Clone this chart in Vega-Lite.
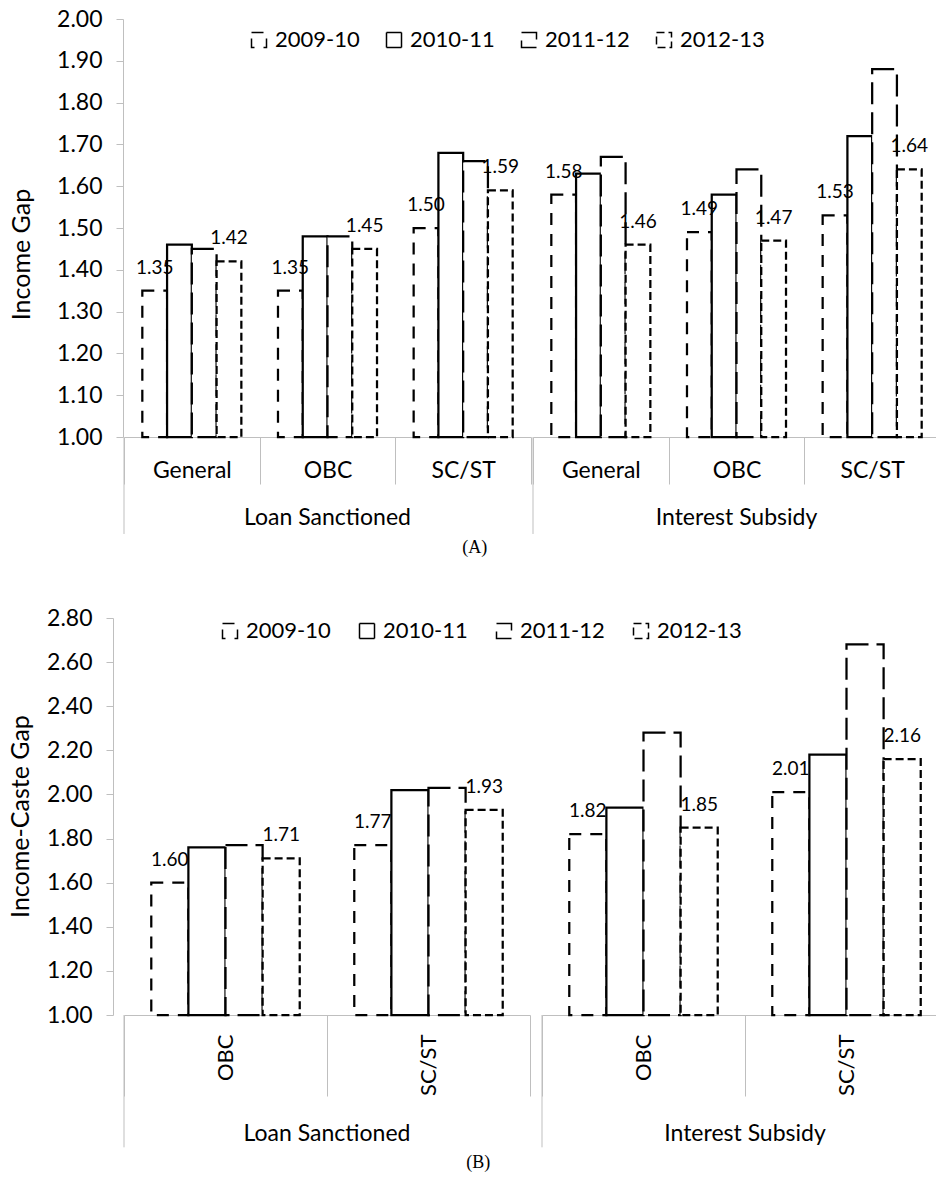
{
  "$schema": "https://vega.github.io/schema/vega-lite/v6.json",
  "padding": {"top": 8, "left": 8, "right": 0, "bottom": 0},
  "background": "white",
  "config": {
    "view": {"stroke": null},
    "font": "Lato",
    "axis": {"labelColor": "black", "labelFont": "Lato", "titleColor": "black", "titleFont": "Lato", "domainColor": "#bfbfbf", "tickColor": "#bfbfbf", "grid": false},
    "header": {"labelColor": "black", "labelFont": "Lato"},
    "legend": {"labelColor": "black", "labelFont": "Lato"}
  },
  "vconcat": [
    {
      "data": {"values": [
        {"program": "Loan Sanctioned", "cat": "General", "year": "2009-10", "value": 1.35},
        {"program": "Loan Sanctioned", "cat": "General", "year": "2010-11", "value": 1.46},
        {"program": "Loan Sanctioned", "cat": "General", "year": "2011-12", "value": 1.45},
        {"program": "Loan Sanctioned", "cat": "General", "year": "2012-13", "value": 1.42},
        {"program": "Loan Sanctioned", "cat": "OBC", "year": "2009-10", "value": 1.35},
        {"program": "Loan Sanctioned", "cat": "OBC", "year": "2010-11", "value": 1.48},
        {"program": "Loan Sanctioned", "cat": "OBC", "year": "2011-12", "value": 1.48},
        {"program": "Loan Sanctioned", "cat": "OBC", "year": "2012-13", "value": 1.45},
        {"program": "Loan Sanctioned", "cat": "SC/ST", "year": "2009-10", "value": 1.50},
        {"program": "Loan Sanctioned", "cat": "SC/ST", "year": "2010-11", "value": 1.68},
        {"program": "Loan Sanctioned", "cat": "SC/ST", "year": "2011-12", "value": 1.66},
        {"program": "Loan Sanctioned", "cat": "SC/ST", "year": "2012-13", "value": 1.59},
        {"program": "Interest Subsidy", "cat": "General", "year": "2009-10", "value": 1.58},
        {"program": "Interest Subsidy", "cat": "General", "year": "2010-11", "value": 1.63},
        {"program": "Interest Subsidy", "cat": "General", "year": "2011-12", "value": 1.67},
        {"program": "Interest Subsidy", "cat": "General", "year": "2012-13", "value": 1.46},
        {"program": "Interest Subsidy", "cat": "OBC", "year": "2009-10", "value": 1.49},
        {"program": "Interest Subsidy", "cat": "OBC", "year": "2010-11", "value": 1.58},
        {"program": "Interest Subsidy", "cat": "OBC", "year": "2011-12", "value": 1.64},
        {"program": "Interest Subsidy", "cat": "OBC", "year": "2012-13", "value": 1.47},
        {"program": "Interest Subsidy", "cat": "SC/ST", "year": "2009-10", "value": 1.53},
        {"program": "Interest Subsidy", "cat": "SC/ST", "year": "2010-11", "value": 1.72},
        {"program": "Interest Subsidy", "cat": "SC/ST", "year": "2011-12", "value": 1.88},
        {"program": "Interest Subsidy", "cat": "SC/ST", "year": "2012-13", "value": 1.64}
      ]},
      "title": {"text": "(A)", "orient": "bottom", "anchor": "middle", "frame": "bounds", "font": "Liberation Serif", "fontSize": 18, "fontWeight": "normal", "color": "black", "offset": 4},
      "spacing": 0,
      "resolve": {"scale": {"x": "independent", "xOffset": "independent"}},
      "facet": {"column": {"field": "program", "type": "nominal", "sort": ["Loan Sanctioned", "Interest Subsidy"],
        "header": {"title": null, "labelOrient": "bottom", "labelFontSize": 23, "labelPadding": -28}}},
      "spec": {
        "width": 407, "height": 418,
        "layer": [
          {
            "mark": {"type": "bar", "fill": "white", "stroke": "black", "strokeWidth": 2.25},
            "encoding": {
              "x": {"field": "cat", "type": "nominal", "sort": ["General", "OBC", "SC/ST"],
                "scale": {"paddingInner": 0, "paddingOuter": 0},
                "axis": {"title": null, "tickBand": "extent", "tickSize": 47, "labelAngle": 0, "labelFontSize": 23, "labelBaseline": "middle", "labelPadding": -14}},
              "xOffset": {"field": "year", "type": "nominal", "scale": {"domain": ["2009-10", "2010-11", "2011-12", "2012-13"], "paddingInner": 0, "paddingOuter": 0.74}},
              "y": {"field": "value", "type": "quantitative", "scale": {"domain": [1, 2], "zero": false, "nice": false},
                "axis": {"title": "Income Gap", "titleFontSize": 25, "titleFontWeight": "normal", "titleX": -89, "titleY": 235, "titleBaseline": "bottom", "titleAngle": 270, "values": [1, 1.1, 1.2, 1.3, 1.4, 1.5, 1.6, 1.7, 1.8, 1.9, 2], "format": ".2f", "tickSize": 7, "labelPadding": 14, "labelFontSize": 23}},
              "y2": {"datum": 1},
              "strokeDash": {"field": "year", "type": "nominal", "scale": {"domain": ["2009-10", "2010-11", "2011-12", "2012-13"], "range": [[12, 9], [1, 0], [22, 8], [8, 4]]},
                "legend": {"title": null, "orient": "none", "legendX": 124, "legendY": 10, "direction": "horizontal", "symbolType": "square", "symbolSize": 225, "labelFontSize": 22, "columnPadding": 23, "labelOffset": 5,
                  "encode": {"symbols": {"update": {"stroke": {"value": "black"}, "strokeWidth": {"value": 2}, "fill": {"value": "white"}, "opacity": {"value": 1}}}}}}
            }
          },
          {
            "transform": [{"filter": "datum.year == '2009-10' || datum.year == '2012-13'"}],
            "mark": {"type": "text", "baseline": "alphabetic", "align": "center", "dy": -17, "fontSize": 19, "color": "black"},
            "encoding": {
              "x": {"field": "cat", "type": "nominal", "sort": ["General", "OBC", "SC/ST"]},
              "xOffset": {"field": "year", "type": "nominal"},
              "y": {"field": "value", "type": "quantitative"},
              "text": {"field": "value", "type": "quantitative", "format": ".2f"}
            }
          },
          {
            "transform": [{"filter": "datum.year == '2009-10' && datum.cat == 'General'"}],
            "mark": {"type": "rule", "color": "#bfbfbf", "strokeWidth": 1},
            "encoding": {
              "x": {"field": "cat", "type": "nominal", "sort": ["General", "OBC", "SC/ST"], "bandPosition": 0},
              "y": {"datum": 1},
              "y2": {"datum": 0.768}
            }
          },
          {
            "transform": [{"filter": "datum.year == '2009-10' && datum.cat == 'SC/ST' && datum.program == 'Interest Subsidy'"}],
            "mark": {"type": "rule", "color": "#bfbfbf", "strokeWidth": 1},
            "encoding": {
              "x": {"field": "cat", "type": "nominal", "sort": ["General", "OBC", "SC/ST"], "bandPosition": 1},
              "y": {"datum": 1},
              "y2": {"datum": 0.768}
            }
          }
        ]
      }
    },
    {
      "data": {"values": [
        {"program": "Loan Sanctioned", "cat": "OBC", "year": "2009-10", "value": 1.60},
        {"program": "Loan Sanctioned", "cat": "OBC", "year": "2010-11", "value": 1.76},
        {"program": "Loan Sanctioned", "cat": "OBC", "year": "2011-12", "value": 1.77},
        {"program": "Loan Sanctioned", "cat": "OBC", "year": "2012-13", "value": 1.71},
        {"program": "Loan Sanctioned", "cat": "SC/ST", "year": "2009-10", "value": 1.77},
        {"program": "Loan Sanctioned", "cat": "SC/ST", "year": "2010-11", "value": 2.02},
        {"program": "Loan Sanctioned", "cat": "SC/ST", "year": "2011-12", "value": 2.03},
        {"program": "Loan Sanctioned", "cat": "SC/ST", "year": "2012-13", "value": 1.93},
        {"program": "Interest Subsidy", "cat": "OBC", "year": "2009-10", "value": 1.82},
        {"program": "Interest Subsidy", "cat": "OBC", "year": "2010-11", "value": 1.94},
        {"program": "Interest Subsidy", "cat": "OBC", "year": "2011-12", "value": 2.28},
        {"program": "Interest Subsidy", "cat": "OBC", "year": "2012-13", "value": 1.85},
        {"program": "Interest Subsidy", "cat": "SC/ST", "year": "2009-10", "value": 2.01},
        {"program": "Interest Subsidy", "cat": "SC/ST", "year": "2010-11", "value": 2.18},
        {"program": "Interest Subsidy", "cat": "SC/ST", "year": "2011-12", "value": 2.68},
        {"program": "Interest Subsidy", "cat": "SC/ST", "year": "2012-13", "value": 2.16}
      ]},
      "title": {"text": "(B)", "orient": "bottom", "anchor": "middle", "frame": "bounds", "font": "Liberation Serif", "fontSize": 18, "fontWeight": "normal", "color": "black", "offset": 6},
      "spacing": 0,
      "resolve": {"scale": {"x": "independent", "xOffset": "independent"}},
      "facet": {"column": {"field": "program", "type": "nominal", "sort": ["Loan Sanctioned", "Interest Subsidy"],
        "header": {"title": null, "labelOrient": "bottom", "labelFontSize": 23, "labelPadding": -25}}},
      "spec": {
        "width": 406, "height": 397,
        "layer": [
          {
            "mark": {"type": "bar", "fill": "white", "stroke": "black", "strokeWidth": 2.25},
            "encoding": {
              "x": {"field": "cat", "type": "nominal", "sort": ["OBC", "SC/ST"],
                "scale": {"paddingInner": 0, "paddingOuter": 0},
                "axis": {"title": null, "tickBand": "extent", "tickSize": 81, "labelAngle": 270, "labelFontSize": 22, "labelPadding": -62}},
              "xOffset": {"field": "year", "type": "nominal", "scale": {"domain": ["2009-10", "2010-11", "2011-12", "2012-13"], "paddingInner": 0, "paddingOuter": 0.735}},
              "y": {"field": "value", "type": "quantitative", "scale": {"domain": [1, 2.8], "zero": false, "nice": false},
                "axis": {"title": "Income-Caste Gap", "titleFontSize": 25, "titleFontWeight": "normal", "titleX": -80, "titleY": 198, "titleBaseline": "bottom", "titleAngle": 270, "values": [1, 1.2, 1.4, 1.6, 1.8, 2, 2.2, 2.4, 2.6, 2.8], "format": ".2f", "tickSize": 7, "labelPadding": 14, "labelFontSize": 23}},
              "y2": {"datum": 1},
              "strokeDash": {"field": "year", "type": "nominal", "scale": {"domain": ["2009-10", "2010-11", "2011-12", "2012-13"], "range": [[12, 9], [1, 0], [22, 8], [8, 4]]},
                "legend": {"title": null, "orient": "none", "legendX": 95, "legendY": 2, "direction": "horizontal", "symbolType": "square", "symbolSize": 225, "labelFontSize": 22, "columnPadding": 25, "labelOffset": 5,
                  "encode": {"symbols": {"update": {"stroke": {"value": "black"}, "strokeWidth": {"value": 2}, "fill": {"value": "white"}, "opacity": {"value": 1}}}}}}
            }
          },
          {
            "transform": [{"filter": "datum.year == '2009-10' || datum.year == '2012-13'"}],
            "mark": {"type": "text", "baseline": "alphabetic", "align": "center", "dy": -17, "fontSize": 19, "color": "black"},
            "encoding": {
              "x": {"field": "cat", "type": "nominal", "sort": ["OBC", "SC/ST"]},
              "xOffset": {"field": "year", "type": "nominal"},
              "y": {"field": "value", "type": "quantitative"},
              "text": {"field": "value", "type": "quantitative", "format": ".2f"}
            }
          },
          {
            "transform": [{"filter": "datum.year == '2009-10' && datum.cat == 'OBC'"}],
            "mark": {"type": "rule", "color": "#bfbfbf", "strokeWidth": 1},
            "encoding": {
              "x": {"field": "cat", "type": "nominal", "sort": ["OBC", "SC/ST"], "bandPosition": 0},
              "y": {"datum": 1},
              "y2": {"datum": 0.40}
            }
          },
          {
            "transform": [{"filter": "datum.year == '2009-10' && datum.cat == 'SC/ST' && datum.program == 'Interest Subsidy'"}],
            "mark": {"type": "rule", "color": "#bfbfbf", "strokeWidth": 1},
            "encoding": {
              "x": {"field": "cat", "type": "nominal", "sort": ["OBC", "SC/ST"], "bandPosition": 1},
              "y": {"datum": 1},
              "y2": {"datum": 0.40}
            }
          }
        ]
      }
    }
  ],
  "spacing": 50,
  "resolve": {"scale": {"strokeDash": "independent"}, "legend": {"strokeDash": "independent"}}
}
